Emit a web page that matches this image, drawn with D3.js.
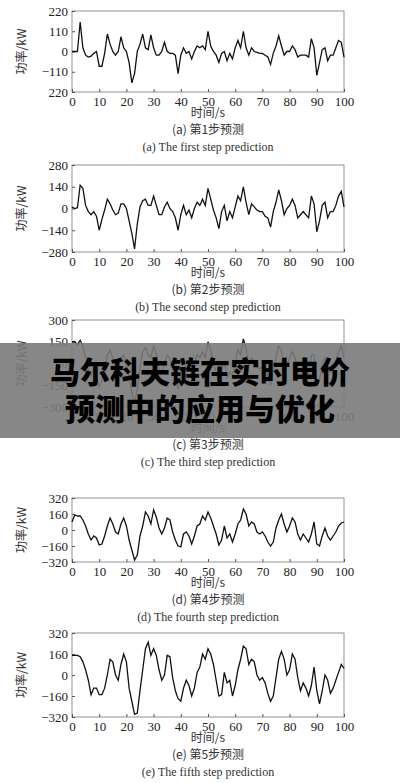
<!DOCTYPE html>
<html><head><meta charset="utf-8">
<script src="https://cdn.jsdelivr.net/npm/d3@7"></script>
<style>body{margin:0;background:#fff}svg{display:block}</style>
</head><body><div id="chart"></div>
<script>
const xTicks = [0,10,20,30,40,50,60,70,80,90,100];
const seriesA = [0,0,0,160,20,-20,-30,-25,-10,0,-80,-80,-10,95,40,0,-20,0,80,20,0,-60,-170,-120,0,40,95,20,10,90,20,-20,-20,0,50,0,-10,-10,-20,-120,-20,20,-10,0,-40,0,30,20,30,10,110,30,0,-20,-60,-10,0,-50,-10,-40,20,60,20,110,20,-20,20,0,-5,-10,-10,-20,-30,-70,-10,30,85,30,-20,0,0,30,10,-30,-20,-20,-20,-30,70,20,-130,-60,10,20,-50,-20,-20,20,60,50,-30];
const seriesB = [10,0,5,150,130,20,-20,-40,-20,-50,-140,-70,-10,60,30,-10,-40,-30,30,30,0,-80,-160,-260,-100,10,50,60,20,20,80,20,-40,-40,10,40,0,-20,-60,-140,-40,20,-40,-10,-60,0,40,20,60,20,130,60,-10,-60,-130,-20,20,-80,-20,-60,10,80,50,140,40,-40,30,10,-10,-20,-20,-50,-60,-120,-20,40,120,50,-40,0,20,60,20,-60,-40,-20,-40,-60,80,30,-150,-80,20,40,-60,-20,-20,20,80,110,10];
const seriesC = [150,150,130,160,120,40,-40,-80,-40,-100,-160,-120,-40,60,90,40,-20,-40,40,60,0,-100,-200,-280,-180,-20,80,110,60,40,120,60,-40,-60,0,60,40,-40,-80,-180,-80,20,-40,-20,-80,0,60,40,80,40,150,90,0,-60,-160,-60,20,-100,-60,-80,0,100,60,170,100,-20,40,20,-20,-40,-20,-60,-80,-150,-60,40,120,90,-40,-20,40,80,40,-60,-80,-40,-60,-80,60,60,-160,-120,0,40,-40,-40,-20,20,80,120,40];
const seriesD = [80,150,140,140,100,40,-40,-100,-60,-80,-150,-140,-60,40,120,60,-20,-40,60,120,40,-100,-200,-300,-250,-60,40,180,140,60,200,130,20,-40,20,120,100,-20,-100,-160,-170,-40,-20,-60,-140,-60,40,60,140,100,180,120,40,-40,-150,-100,40,-80,-40,-120,-40,60,100,210,160,40,80,60,-20,-40,-20,-60,-120,-160,-120,20,100,160,60,-20,40,120,80,-40,-100,-40,-80,-120,-40,80,-140,-160,-60,20,-60,-100,-60,-20,40,70,80];
const seriesE = [150,150,150,140,100,40,-40,-150,-100,-100,-150,-150,-100,0,120,100,0,-40,80,160,100,-100,-200,-300,-290,-120,40,200,250,150,200,150,40,-40,0,150,140,-20,-120,-180,-200,-100,-40,-80,-160,-100,20,60,160,120,200,160,80,-40,-160,-150,20,-60,-40,-160,-80,40,120,220,200,80,120,100,0,-40,-20,-60,-140,-200,-160,-20,120,180,120,0,40,160,120,-20,-120,-60,-100,-160,-80,60,-120,-220,-120,0,-40,-140,-100,-40,20,80,50];

const panels = [
  {data: seriesA, ticks: [220,110,0,-110,-220], labels: ["220","110","0","−110","220"], top: 11, bottom: 92, zh: "(a) 第1步预测", en: "(a) The first step prediction"},
  {data: seriesB, ticks: [280,140,0,-140,-280], labels: ["280","140","0","−140","−280"], top: 165, bottom: 252, zh: "(b) 第2步预测", en: "(b) The second step prediction"},
  {data: seriesC, ticks: [300,150,0,-150,-300], labels: ["300","150","0","−150","−300"], top: 320, bottom: 407, zh: "(c) 第3步预测", en: "(c) The third step prediction"},
  {data: seriesD, ticks: [320,160,0,-160,-320], labels: ["320","160","0","−160","−320"], top: 498, bottom: 562, zh: "(d) 第4步预测", en: "(d) The fourth step prediction"},
  {data: seriesE, ticks: [320,160,0,-160,-320], labels: ["320","160","0","−160","−320"], top: 633, bottom: 717, zh: "(e) 第5步预测", en: "(e) The fifth step prediction"}
];

const svg = d3.select("#chart").append("svg").attr("width", 400).attr("height", 783);
const serif = "'Liberation Serif','DejaVu Serif',serif";
const cjk = "'Noto Sans CJK SC',sans-serif";
const x = d3.scaleLinear().domain([0, 100]).range([72, 344]);

panels.forEach(p => {
  const y = d3.scaleLinear().domain([p.ticks[4], p.ticks[0]]).range([p.bottom, p.top]);
  const g = svg.append("g");
  g.append("rect").attr("x", 72).attr("y", p.top).attr("width", 272).attr("height", p.bottom - p.top)
    .attr("fill", "none").attr("stroke", "#777").attr("stroke-width", 0.8);

  const xa = g.append("g").attr("transform", `translate(0,${p.bottom})`)
    .call(d3.axisBottom(x).tickValues(xTicks).tickSize(-3).tickPadding(5));
  const ya = g.append("g").attr("transform", "translate(72,0)")
    .call(d3.axisLeft(y).tickValues(p.ticks).tickSize(-3).tickPadding(4).tickFormat((d, i) => p.labels[i]));
  [xa, ya].forEach(a => {
    a.select(".domain").remove();
    a.selectAll("line").attr("stroke", "#555");
    a.selectAll("text").attr("font-family", serif).attr("font-size", 13).attr("fill", "#222");
  });

  g.append("path").datum(p.data)
    .attr("d", d3.line().x((d, i) => x(i)).y(d => y(d)))
    .attr("fill", "none").attr("stroke", "#111").attr("stroke-width", 1.3);

  const mid = (p.top + p.bottom) / 2;
  g.append("text").attr("transform", `translate(26,${mid}) rotate(-90)`).attr("text-anchor", "middle")
    .attr("font-family", cjk).attr("font-size", 12).attr("fill", "#333").text("功率/kW");
  g.append("text").attr("x", 208).attr("y", p.bottom + 25).attr("text-anchor", "middle")
    .attr("font-family", cjk).attr("font-size", 12).attr("fill", "#333").text("时间/s");
  g.append("text").attr("x", 208).attr("y", p.bottom + 42).attr("text-anchor", "middle")
    .attr("font-family", cjk).attr("font-size", 12).attr("fill", "#333").text(p.zh);
  g.append("text").attr("x", 208).attr("y", p.bottom + 59).attr("text-anchor", "middle")
    .attr("font-family", serif).attr("font-size", 12).attr("fill", "#333").text(p.en);
});

// title banner overlay
svg.append("rect").attr("x", 0).attr("y", 343).attr("width", 400).attr("height", 95)
  .attr("fill", "#7a7a7a").attr("opacity", 0.9);
[["马尔科夫链在实时电价", 383], ["预测中的应用与优化", 420]].forEach(([t, yy]) => {
  svg.append("text").attr("x", 200).attr("y", yy).attr("text-anchor", "middle")
    .attr("font-family", cjk).attr("font-weight", 900).attr("font-size", 30).attr("fill", "#000").text(t);
});
</script></body></html>
